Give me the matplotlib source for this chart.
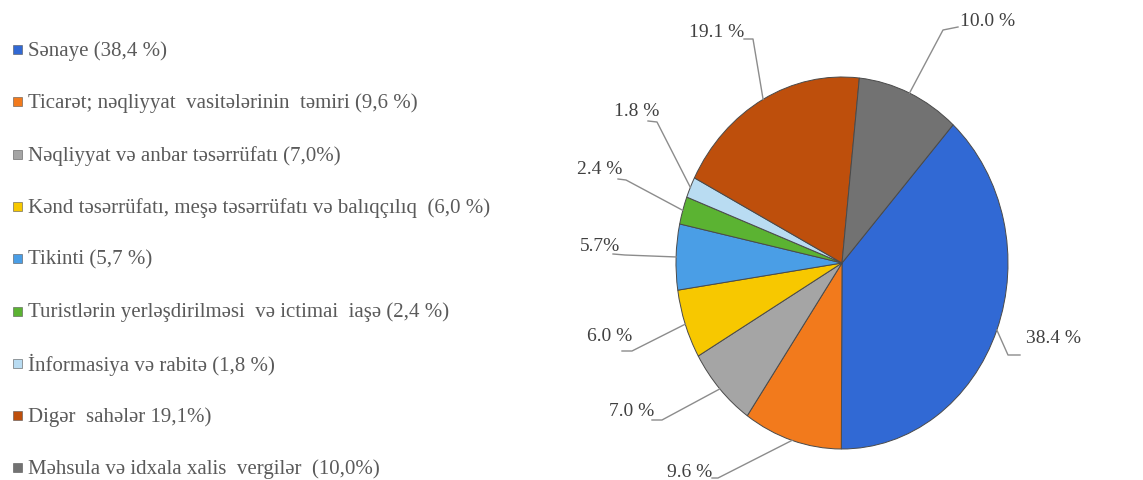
import numpy as np
import matplotlib
matplotlib.use("Agg")
import matplotlib.pyplot as plt
from matplotlib.patches import Rectangle

plt.rcParams["font.family"] = ["Liberation Serif", "DejaVu Serif"]

# Data (clockwise order of the pie, starting with Sənaye)
categories = [
    "Sənaye (38,4 %)",
    "Ticarət; nəqliyyat  vasitələrinin  təmiri (9,6 %)",
    "Nəqliyyat və anbar təsərrüfatı (7,0%)",
    "Kənd təsərrüfatı, meşə təsərrüfatı və balıqçılıq  (6,0 %)",
    "Tikinti (5,7 %)",
    "Turistlərin yerləşdirilməsi  və ictimai  iaşə (2,4 %)",
    "İnformasiya və rabitə (1,8 %)",
    "Digər  sahələr 19,1%)",
    "Məhsula və idxala xalis  vergilər  (10,0%)",
]
values = [38.4, 9.6, 7.0, 6.0, 5.7, 2.4, 1.8, 19.1, 10.0]
pct_labels = ["38.4 %", "9.6 %", "7.0 %", "6.0 %", "5.7%", "2.4 %", "1.8 %", "19.1 %", "10.0 %"]
colors = ["#3169D4", "#F27A1C", "#A5A5A5", "#F7C800", "#4A9EE6",
          "#5BB332", "#B9DCF2", "#BE4F0C", "#727272"]

W, H = 1143, 481
fig = plt.figure(figsize=(W / 100, H / 100), dpi=100)

# ---- legend (left) ----
lax = fig.add_axes([0, 0, 1, 1])
lax.set_xlim(0, W)
lax.set_ylim(H, 0)
lax.axis("off")
y0, dy = 51, 52.3
for i, (lab, col) in enumerate(zip(categories, colors)):
    y = y0 + i * dy
    lax.add_patch(Rectangle((13, y - 5), 9, 9, facecolor=col, edgecolor="#555555", lw=0.4))
    lax.text(28, y, lab, fontsize=15, color="#5a5a5a", va="center", ha="left")

# ---- pie (right) ----
cx, cy, rx, ry = 842, 264, 166, 186   # pixel centre and radii
ax_left = 540
ax = fig.add_axes([ax_left / W, 0, (W - ax_left) / W, 1])
wedges, _ = ax.pie(values, colors=colors, startangle=48, counterclock=False,
                   wedgeprops=dict(edgecolor="#4a4a4a", linewidth=0.7))
ax.set_aspect("auto")
ax.set_xlim((ax_left - cx) / rx, (W - cx) / rx)
ax.set_ylim((cy - H) / ry, cy / ry)
ax.axis("off")


def px(x, y):
    return (x - cx) / rx, (cy - y) / ry


# label layout in pixels: text centre, elbow, line end
text_pos = [(1053, 339), (690, 473), (632, 412), (610, 337), (600, 247),
            (600, 170), (637, 112), (717, 33), (988, 22)]
elbows = [(1008, 356), (718, 479), (662, 421), (632, 352), (625, 256),
          (626, 181), (657, 123), (753, 40), (943, 31)]
ends = [(1020, 356), (712, 479), (652, 421), (622, 352), (613, 255),
        (618, 180), (648, 122), (744, 40), (958, 28)]

for w, lab, tp, el, en in zip(wedges, pct_labels, text_pos, elbows, ends):
    ang = np.deg2rad((w.theta1 + w.theta2) / 2)
    ex, ey = np.cos(ang), np.sin(ang)
    ax.plot([ex, px(*el)[0], px(*en)[0]], [ey, px(*el)[1], px(*en)[1]],
            color="#8c8c8c", lw=1.0, clip_on=False)
    ax.text(*px(*tp), lab, fontsize=14, color="#404040", ha="center", va="center")

fig.savefig("out.png", dpi=100, facecolor="white")
